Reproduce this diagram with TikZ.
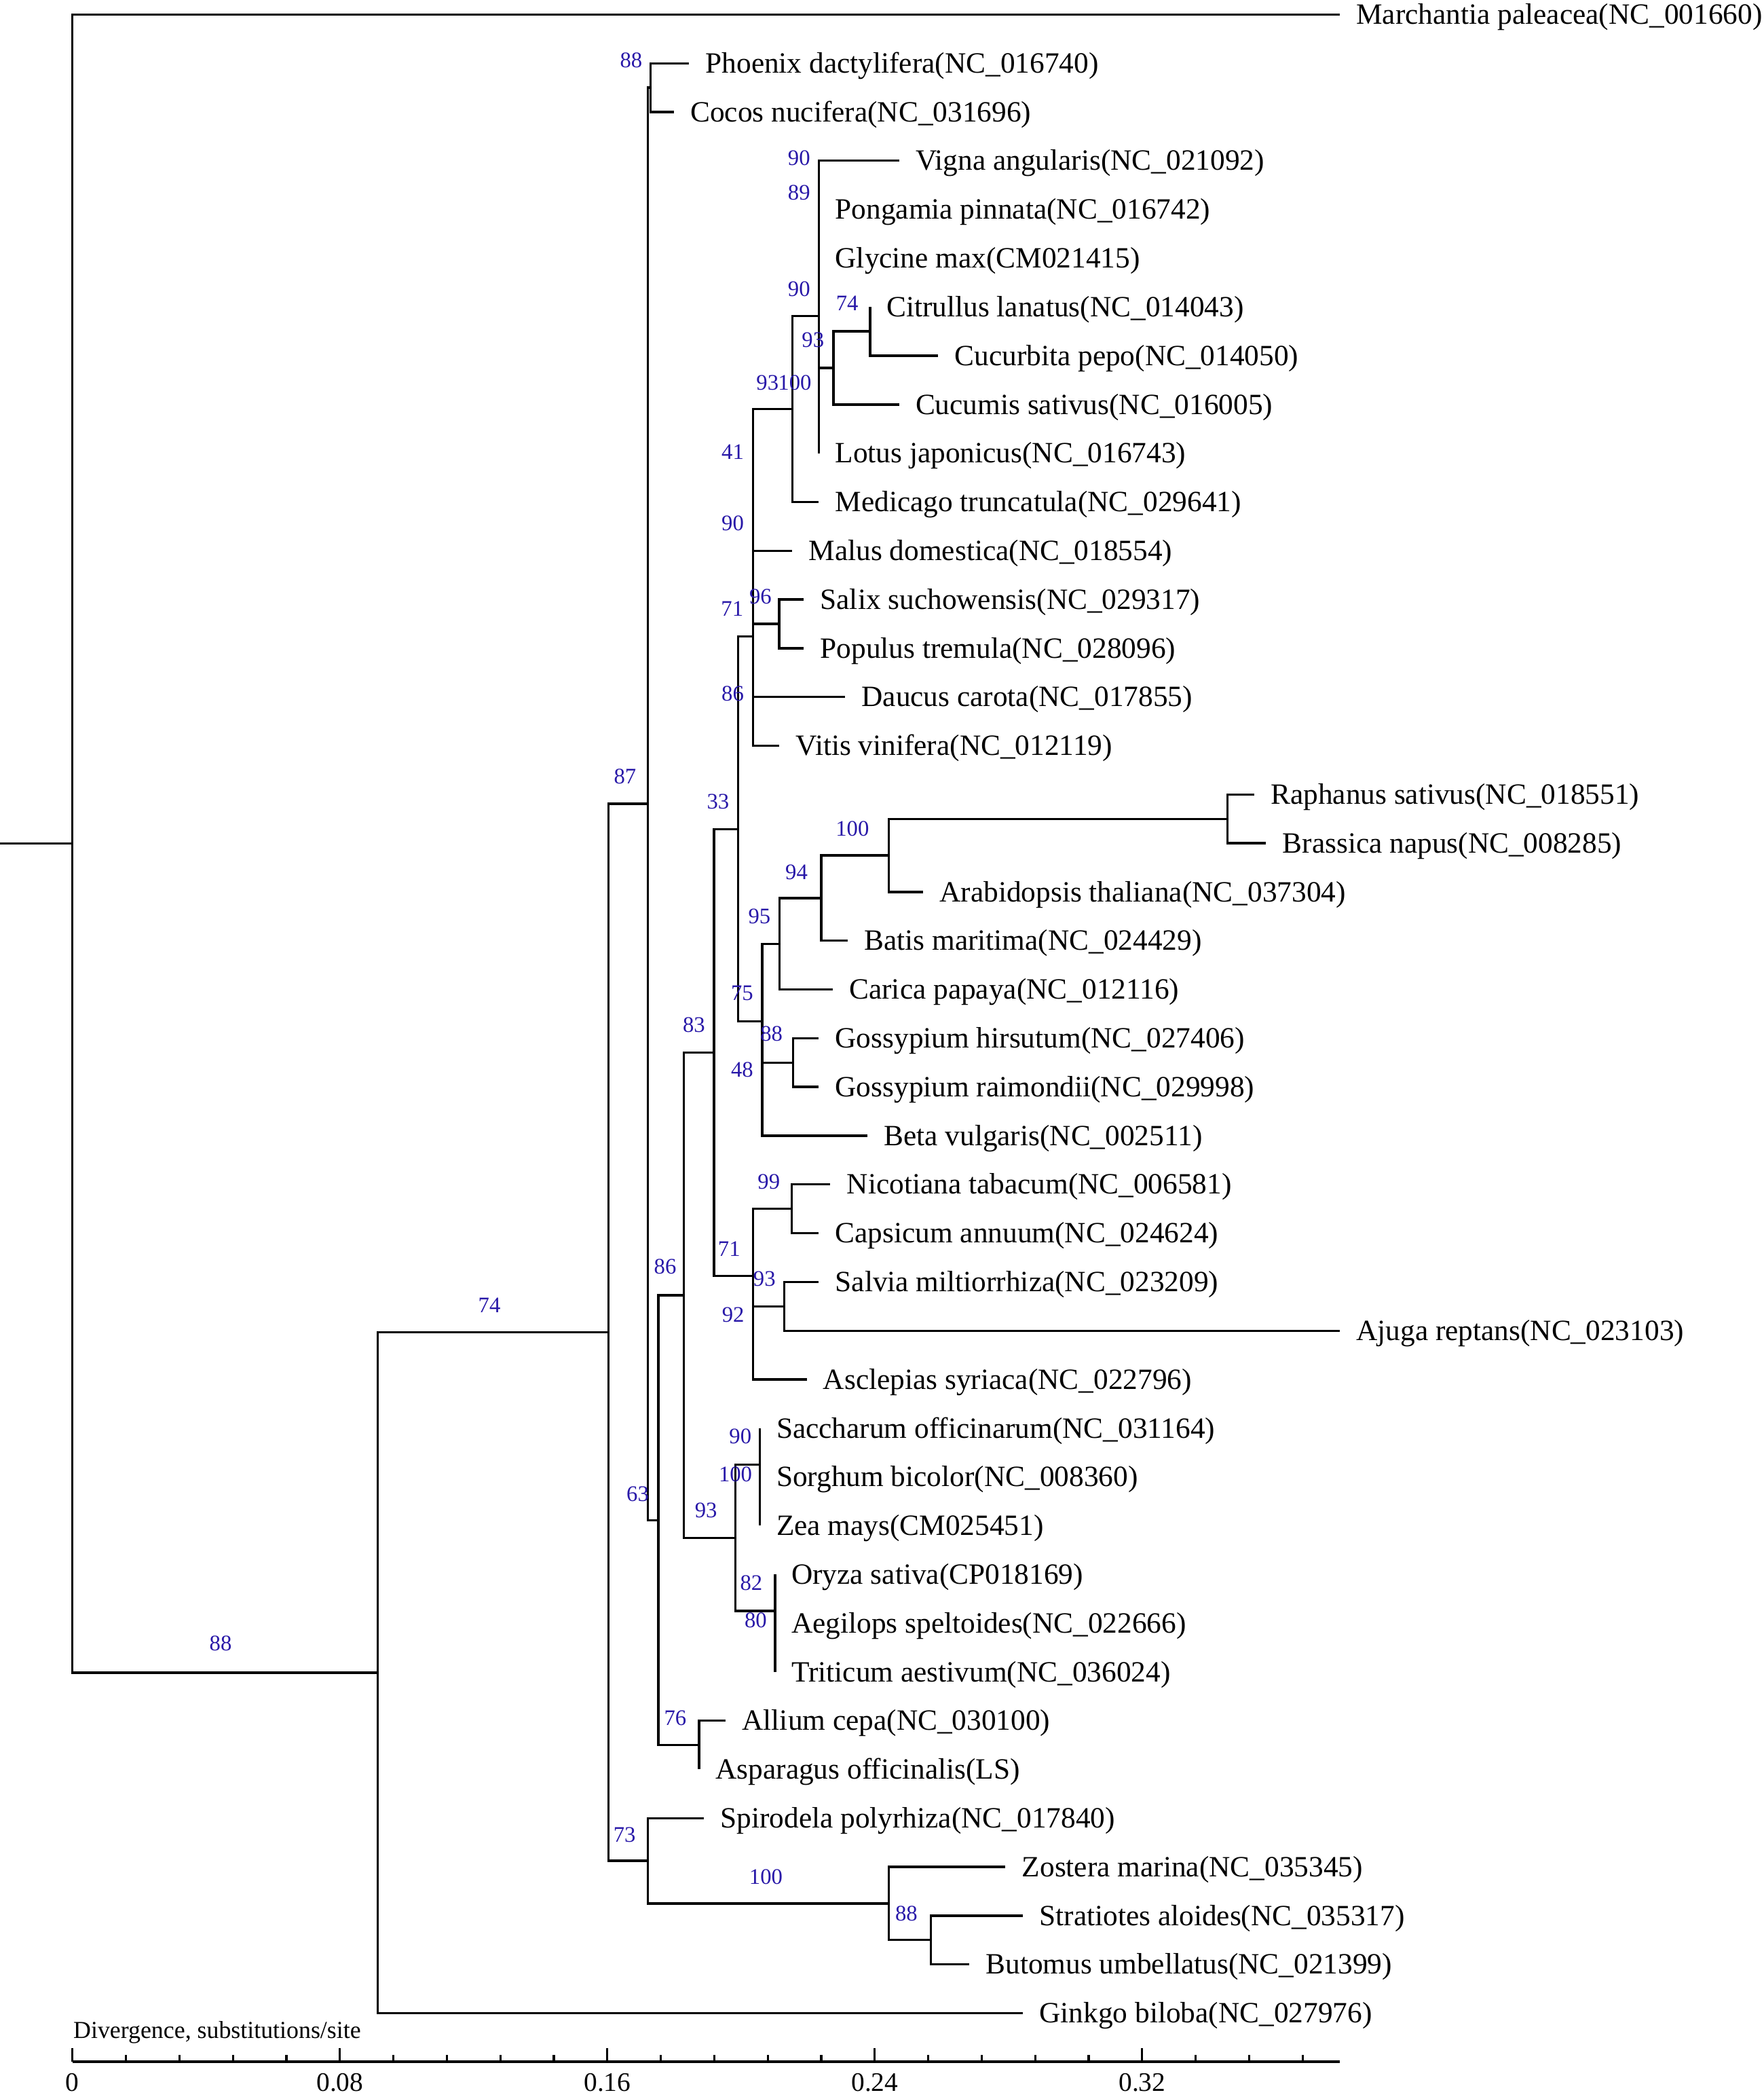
\documentclass[tikz,border=0pt]{standalone}
\usepackage{fontspec}
\setmainfont{Liberation Serif}
\usetikzlibrary{calc}
\definecolor{bootblue}{RGB}{40,24,168}
\tikzstyle{branch} = [line width=0.85pt, line join=miter]
\tikzstyle{leafnode} = [anchor=west, inner xsep=6.2pt, inner ysep=0pt, outer sep=0pt, text height=7.2pt, text depth=0pt, font=\fontsize{11}{12}\selectfont]
\tikzstyle{bootnode} = [inner sep=0pt, text=bootblue, font=\fontsize{8.3}{9}\selectfont]
\tikzstyle{ticklabel} = [anchor=base, inner sep=0pt, font=\fontsize{10}{12}\selectfont]

\begin{document}
\begin{tikzpicture}[x=0.5pt, y=-18.225pt]
\useasboundingbox (0,-0.2977) rectangle (1319,42.72);

% leaves, one per row
\node[leafnode] (marchantia) at (1002,0) {Marchantia paleacea(NC\_001660)};
\node[leafnode] (phoenix) at (515.3,1) {Phoenix dactylifera(NC\_016740)};
\node[leafnode] (cocos) at (504,2) {Cocos nucifera(NC\_031696)};
\node[leafnode] (vigna) at (672.4,3) {Vigna angularis(NC\_021092)};
\node[leafnode] (pongamia) at (612.3,4) {Pongamia pinnata(NC\_016742)};
\node[leafnode] (glycine) at (612.3,5) {Glycine max(CM021415)};
\node[leafnode] (citrullus) at (650.7,6) {Citrullus lanatus(NC\_014043)};
\node[leafnode] (cucurbita) at (701.6,7) {Cucurbita pepo(NC\_014050)};
\node[leafnode] (cucumis) at (672.4,8) {Cucumis sativus(NC\_016005)};
\node[leafnode] (lotus) at (612.3,9) {Lotus japonicus(NC\_016743)};
\node[leafnode] (medicago) at (612.3,10) {Medicago truncatula(NC\_029641)};
\node[leafnode] (malus) at (592.5,11) {Malus domestica(NC\_018554)};
\node[leafnode] (salix) at (601.1,12) {Salix suchowensis(NC\_029317)};
\node[leafnode] (populus) at (601.1,13) {Populus tremula(NC\_028096)};
\node[leafnode] (daucus) at (632,14) {Daucus carota(NC\_017855)};
\node[leafnode] (vitis) at (582.7,15) {Vitis vinifera(NC\_012119)};
\node[leafnode] (raphanus) at (938,16) {Raphanus sativus(NC\_018551)};
\node[leafnode] (brassica) at (946.9,17) {Brassica napus(NC\_008285)};
\node[leafnode] (arabidopsis) at (690.4,18) {Arabidopsis thaliana(NC\_037304)};
\node[leafnode] (batis) at (634,19) {Batis maritima(NC\_024429)};
\node[leafnode] (carica) at (622.8,20) {Carica papaya(NC\_012116)};
\node[leafnode] (hirsutum) at (612.3,21) {Gossypium hirsutum(NC\_027406)};
\node[leafnode] (raimondii) at (612.3,22) {Gossypium raimondii(NC\_029998)};
\node[leafnode] (beta) at (648.7,23) {Beta vulgaris(NC\_002511)};
\node[leafnode] (nicotiana) at (621,24) {Nicotiana tabacum(NC\_006581)};
\node[leafnode] (capsicum) at (612.3,25) {Capsicum annuum(NC\_024624)};
\node[leafnode] (salvia) at (612.3,26) {Salvia miltiorrhiza(NC\_023209)};
\node[leafnode] (ajuga) at (1002,27) {Ajuga reptans(NC\_023103)};
\node[leafnode] (asclepias) at (603.3,28) {Asclepias syriaca(NC\_022796)};
\node[leafnode] (saccharum) at (568.3,29) {Saccharum officinarum(NC\_031164)};
\node[leafnode] (sorghum) at (568.3,30) {Sorghum bicolor(NC\_008360)};
\node[leafnode] (zea) at (568.3,31) {Zea mays(CM025451)};
\node[leafnode] (oryza) at (579.6,32) {Oryza sativa(CP018169)};
\node[leafnode] (aegilops) at (579.6,33) {Aegilops speltoides(NC\_022666)};
\node[leafnode] (triticum) at (579.6,34) {Triticum aestivum(NC\_036024)};
\node[leafnode] (allium) at (542.7,35) {Allium cepa(NC\_030100)};
\node[leafnode] (asparagus) at (522.9,36) {Asparagus officinalis(LS)};
\node[leafnode] (spirodela) at (526.4,37) {Spirodela polyrhiza(NC\_017840)};
\node[leafnode] (zostera) at (752,38) {Zostera marina(NC\_035345)};
\node[leafnode] (stratiotes) at (765,39) {Stratiotes aloides(NC\_035317)};
\node[leafnode] (butomus) at (724.9,40) {Butomus umbellatus(NC\_021399)};
\node[leafnode] (ginkgo) at (765,41) {Ginkgo biloba(NC\_027976)};

% internal nodes (x = depth, y = mean of the two children)
\coordinate (stub) at (0,17.008);
\coordinate (j_root) at (54.2,17.008);
\coordinate (j_a88) at (282.5,34.017);
\coordinate (j_b74) at (455.2,27.034);
\coordinate (j_d73) at (484.4,37.875);
\coordinate (j_e100) at (664.7,38.75);
\coordinate (j_f88) at (696.2,39.5);
\coordinate (j_c87) at (484.5,16.193);
\coordinate (j_pc) at (486.5,1.5);
\coordinate (j_g63) at (492.4,30.886);
\coordinate (j_i76) at (522.9,35.5);
\coordinate (j_h86) at (511.4,26.271);
\coordinate (j_k93) at (550,31.25);
\coordinate (j_l100) at (568.3,29.75);
\coordinate (j_sz) at (568.3,30.5);
\coordinate (j_m82) at (579.6,32.75);
\coordinate (j_aet) at (579.6,33.5);
\coordinate (j_j83) at (534,21.292);
\coordinate (j_o71) at (563.2,25.875);
\coordinate (j_n99) at (592,24.5);
\coordinate (j_saa) at (563.2,27.25);
\coordinate (j_sa) at (586.4,26.5);
\coordinate (j_n33) at (552,16.709);
\coordinate (j_q75) at (570,20.656);
\coordinate (j_gb) at (570,22.25);
\coordinate (j_g88) at (593,21.5);
\coordinate (j_n95) at (583,19.0625);
\coordinate (j_n94) at (614.2,18.125);
\coordinate (j_q100) at (664.6,17.25);
\coordinate (j_rb) at (918.1,16.5);
\coordinate (j_p) at (563.1,12.762);
\coordinate (j_dv) at (563.1,14.5);
\coordinate (j_rms) at (563.1,11.023);
\coordinate (j_s96) at (582.7,12.5);
\coordinate (j_rm) at (563.1,9.547);
\coordinate (j_r) at (592.5,8.094);
\coordinate (j_t) at (612.3,6.1875);
\coordinate (j_vpg) at (612.3,4.25);
\coordinate (j_vp) at (612.3,3.5);
\coordinate (j_ul) at (612.3,8.125);
\coordinate (j_u) at (623.3,7.25);
\coordinate (j_v74) at (650.7,6.5);

% branches
\draw[branch] (stub) -- (j_root);
\draw[branch] (j_root) |- (marchantia.west) (j_root) |- (j_a88);
\draw[branch] (j_a88) |- (j_b74) (j_a88) |- (ginkgo.west);
\draw[branch] (j_b74) |- (j_c87) (j_b74) |- (j_d73);
\draw[branch] (j_d73) |- (spirodela.west) (j_d73) |- (j_e100);
\draw[branch] (j_e100) |- (zostera.west) (j_e100) |- (j_f88);
\draw[branch] (j_f88) |- (stratiotes.west) (j_f88) |- (butomus.west);
\draw[branch] (j_c87) |- (j_pc) (j_c87) |- (j_g63);
\draw[branch] (j_pc) |- (phoenix.west) (j_pc) |- (cocos.west);
\draw[branch] (j_g63) |- (j_h86) (j_g63) |- (j_i76);
\draw[branch] (j_i76) |- (allium.west) (j_i76) |- (asparagus.west);
\draw[branch] (j_h86) |- (j_j83) (j_h86) |- (j_k93);
\draw[branch] (j_k93) |- (j_l100) (j_k93) |- (j_m82);
\draw[branch] (j_l100) |- (saccharum.west) (j_l100) |- (j_sz);
\draw[branch] (j_sz) |- (sorghum.west) (j_sz) |- (zea.west);
\draw[branch] (j_m82) |- (oryza.west) (j_m82) |- (j_aet);
\draw[branch] (j_aet) |- (aegilops.west) (j_aet) |- (triticum.west);
\draw[branch] (j_j83) |- (j_n33) (j_j83) |- (j_o71);
\draw[branch] (j_o71) |- (j_n99) (j_o71) |- (j_saa);
\draw[branch] (j_n99) |- (nicotiana.west) (j_n99) |- (capsicum.west);
\draw[branch] (j_saa) |- (j_sa) (j_saa) |- (asclepias.west);
\draw[branch] (j_sa) |- (salvia.west) (j_sa) |- (ajuga.west);
\draw[branch] (j_n33) |- (j_p) (j_n33) |- (j_q75);
\draw[branch] (j_q75) |- (j_n95) (j_q75) |- (j_gb);
\draw[branch] (j_gb) |- (j_g88) (j_gb) |- (beta.west);
\draw[branch] (j_g88) |- (hirsutum.west) (j_g88) |- (raimondii.west);
\draw[branch] (j_n95) |- (j_n94) (j_n95) |- (carica.west);
\draw[branch] (j_n94) |- (j_q100) (j_n94) |- (batis.west);
\draw[branch] (j_q100) |- (j_rb) (j_q100) |- (arabidopsis.west);
\draw[branch] (j_rb) |- (raphanus.west) (j_rb) |- (brassica.west);
\draw[branch] (j_p) |- (j_rms) (j_p) |- (j_dv);
\draw[branch] (j_dv) |- (daucus.west) (j_dv) |- (vitis.west);
\draw[branch] (j_rms) |- (j_rm) (j_rms) |- (j_s96);
\draw[branch] (j_s96) |- (salix.west) (j_s96) |- (populus.west);
\draw[branch] (j_rm) |- (j_r) (j_rm) |- (malus.west);
\draw[branch] (j_r) |- (j_t) (j_r) |- (medicago.west);
\draw[branch] (j_t) |- (j_vpg) (j_t) |- (j_ul);
\draw[branch] (j_vpg) |- (j_vp) (j_vpg) |- (glycine.west);
\draw[branch] (j_vp) |- (vigna.west) (j_vp) |- (pongamia.west);
\draw[branch] (j_ul) |- (j_u) (j_ul) |- (lotus.west);
\draw[branch] (j_u) |- (j_v74) (j_u) |- (cucumis.west);
\draw[branch] (j_v74) |- (citrullus.west) (j_v74) |- (cucurbita.west);

% bootstrap values
\node[bootnode] (bs_pc) at ($(j_pc)+(-14.5,-0.56)$) {88};
\node[bootnode] (bs_vp) at ($(j_vp)+(-14.7,-0.56)$) {90};
\node[bootnode] (bs_vpg) at ($(j_vpg)+(-14.7,-0.6)$) {89};
\node[bootnode] (bs_t) at ($(j_t)+(-14.7,-0.56)$) {90};
\node[bootnode] (bs_v74) at ($(j_v74)+(-17.1,-0.57)$) {74};
\node[bootnode] (bs_u) at ($(j_u)+(-15.3,-0.57)$) {93};
\node[bootnode] (bs_r) at ($(j_r)+(-18.5,-0.54)$) {93};
\node[bootnode] (bs_ul) at ($(j_ul)+(-17.9,-0.57)$) {100};
\node[bootnode] (bs_rm) at ($(j_rm)+(-15.1,-0.57)$) {41};
\node[bootnode] (bs_rms) at ($(j_rms)+(-15.1,-0.58)$) {90};
\node[bootnode] (bs_s96) at ($(j_s96)+(-14,-0.56)$) {96};
\node[bootnode] (bs_p) at ($(j_p)+(-15.5,-0.57)$) {71};
\node[bootnode] (bs_dv) at ($(j_dv)+(-15.1,-0.57)$) {86};
\node[bootnode] (bs_c87) at ($(j_c87)+(-17,-0.56)$) {87};
\node[bootnode] (bs_n33) at ($(j_n33)+(-15,-0.56)$) {33};
\node[bootnode] (bs_q100) at ($(j_q100)+(-27.1,-0.55)$) {100};
\node[bootnode] (bs_n94) at ($(j_n94)+(-18.5,-0.53)$) {94};
\node[bootnode] (bs_n95) at ($(j_n95)+(-15,-0.56)$) {95};
\node[bootnode] (bs_q75) at ($(j_q75)+(-15,-0.58)$) {75};
\node[bootnode] (bs_g88) at ($(j_g88)+(-16,-0.59)$) {88};
\node[bootnode] (bs_gb) at ($(j_gb)+(-15,-0.6)$) {48};
\node[bootnode] (bs_j83) at ($(j_j83)+(-15,-0.56)$) {83};
\node[bootnode] (bs_n99) at ($(j_n99)+(-17,-0.56)$) {99};
\node[bootnode] (bs_o71) at ($(j_o71)+(-17.9,-0.56)$) {71};
\node[bootnode] (bs_sa) at ($(j_sa)+(-14.7,-0.57)$) {93};
\node[bootnode] (bs_saa) at ($(j_saa)+(-14.9,-0.58)$) {92};
\node[bootnode] (bs_h86) at ($(j_h86)+(-13.9,-0.59)$) {86};
\node[bootnode] (bs_l100) at ($(j_l100)+(-14.6,-0.58)$) {90};
\node[bootnode] (bs_sz) at ($(j_sz)+(-18.3,-0.56)$) {100};
\node[bootnode] (bs_k93) at ($(j_k93)+(-22,-0.57)$) {93};
\node[bootnode] (bs_g63) at ($(j_g63)+(-15.5,-0.53)$) {63};
\node[bootnode] (bs_m82) at ($(j_m82)+(-17.7,-0.57)$) {82};
\node[bootnode] (bs_aet) at ($(j_aet)+(-14.4,-0.56)$) {80};
\node[bootnode] (bs_i76) at ($(j_i76)+(-17.9,-0.56)$) {76};
\node[bootnode] (bs_d73) at ($(j_d73)+(-17.3,-0.53)$) {73};
\node[bootnode] (bs_e100) at ($(j_e100)+(-91.9,-0.54)$) {100};
\node[bootnode] (bs_f88) at ($(j_f88)+(-18.3,-0.54)$) {88};
\node[bootnode] (bs_b74) at ($(j_b74)+(-89.2,-0.56)$) {74};
\node[bootnode] (bs_a88) at ($(j_a88)+(-117.5,-0.6)$) {88};

% scale bar
\node[anchor=base west, inner sep=0pt, font=\fontsize{9.1}{11}\selectfont] (axis_title) at (54.5,41.51) {Divergence, substitutions/site};
\draw[line width=1pt] (54.2,42) -- (1001.8,42);
\foreach \k in {0,...,23}
  \draw[line width=0.8pt] ({54.2+40*\k},42) -- ++(0,-0.14);
\foreach \k/\lab in {0/0, 1/0.08, 2/0.16, 3/0.24, 4/0.32} {
  \draw[line width=0.8pt] ({54.2+200*\k},42) -- ++(0,-0.29);
  \node[ticklabel] (tick_\k) at ({54.2+200*\k},42.6) {\lab};
}
\end{tikzpicture}
\end{document}
